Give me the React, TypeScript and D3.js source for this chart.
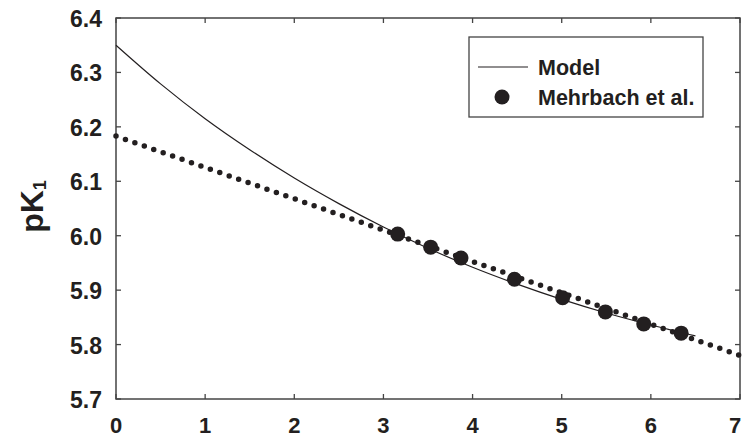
import React from "react";
import * as d3 from "d3";

const xTicks = [0, 1, 2, 3, 4, 5, 6, 7];
const yTicks = [5.7, 5.8, 5.9, 6.0, 6.1, 6.2, 6.3, 6.4];

const modelX = [0, 0.5, 1, 1.5, 2, 2.5, 3, 3.5, 4, 4.5, 5, 5.5, 6, 6.5];
const modelY = [6.35, 6.279, 6.215, 6.158, 6.106, 6.059, 6.016, 5.977, 5.942, 5.911, 5.883, 5.858, 5.836, 5.816];

const fitX = [0, 7];
const fitY = [6.183, 5.78];

const mehrX = [3.16, 3.53, 3.87, 4.47, 5.01, 5.49, 5.92, 6.34];
const mehrY = [6.003, 5.979, 5.959, 5.92, 5.886, 5.86, 5.838, 5.821];

const W = 743, H = 440;
const L = 116, R = 740, T = 18, B = 399;
const ink = "#231f20";
const font = "'Liberation Sans', Arial, sans-serif";

export default function App() {
  const x = d3.scaleLinear().domain([0, 7]).range([L, R]);
  const y = d3.scaleLinear().domain([5.7, 6.4]).range([B, T]);
  const line = d3.line<[number, number]>().x(d => x(d[0])).y(d => y(d[1])).curve(d3.curveCatmullRom);
  const modelPath = line(modelX.map((v, i) => [v, modelY[i]]))!;
  const fitPath = d3.line<[number, number]>().x(d => x(d[0])).y(d => y(d[1]))(fitX.map((v, i) => [v, fitY[i]]))!;
  const tl = 5;
  return (
    <svg width={W} height={H} style={{ position: "absolute", left: 0, top: 0, background: "#fff" }}>
      <rect x={0} y={0} width={W} height={H} fill="#fff" />
      <rect x={L} y={T} width={R - L} height={B - T} fill="none" stroke="#444" strokeWidth={1.5} />
      {xTicks.map(t => (
        <g key={"xt" + t}>
          <line x1={x(t)} x2={x(t)} y1={B} y2={B - tl} stroke="#444" strokeWidth={1.3} />
          <line x1={x(t)} x2={x(t)} y1={T} y2={T + tl} stroke="#444" strokeWidth={1.3} />
          <text x={Math.min(x(t), W - 8)} y={433} textAnchor="middle" fontFamily={font} fontWeight="bold" fontSize={22} fill={ink}>{t}</text>
        </g>
      ))}
      {yTicks.map(t => (
        <g key={"yt" + t}>
          <line x1={L} x2={L + tl} y1={y(t)} y2={y(t)} stroke="#444" strokeWidth={1.3} />
          <line x1={R} x2={R - tl} y1={y(t)} y2={y(t)} stroke="#444" strokeWidth={1.3} />
          <text x={102} y={y(t) + 9} textAnchor="end" fontFamily={font} fontWeight="bold" fontSize={23} fill={ink}>{t.toFixed(1)}</text>
        </g>
      ))}
      <text transform={`translate(43,${(T + B) / 2 - 2}) rotate(-90)`} textAnchor="middle" fontFamily={font} fontWeight="bold" fontSize={32} fill={ink}>
        pK<tspan fontSize={18} dy={3}>1</tspan>
      </text>
      <path d={fitPath} fill="none" stroke={ink} strokeWidth={5.5} strokeLinecap="round" strokeDasharray="0 10" />
      <path d={modelPath} fill="none" stroke={ink} strokeWidth={1.2} />
      {mehrX.map((v, i) => (
        <circle key={"m" + i} cx={x(v)} cy={y(mehrY[i])} r={7.5} fill={ink} />
      ))}
      <rect x={469} y={37} width={234} height={80} fill="#fff" stroke="#444" strokeWidth={1.3} />
      <line x1={478} x2={528} y1={67} y2={67} stroke={ink} strokeWidth={1.2} />
      <text x={538} y={75} fontFamily={font} fontWeight="bold" fontSize={21.5} fill={ink}>Model</text>
      <circle cx={502} cy={97} r={7.5} fill={ink} />
      <text x={538} y={105} fontFamily={font} fontWeight="bold" fontSize={21.5} fill={ink}>Mehrbach et al.</text>
    </svg>
  );
}
